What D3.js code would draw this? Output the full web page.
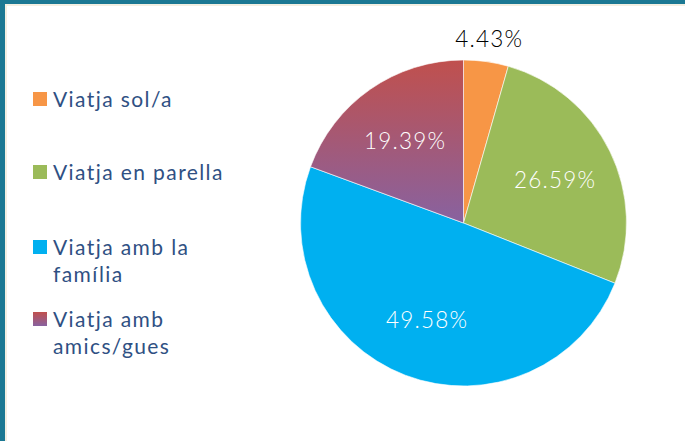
<!DOCTYPE html>
<html>
<head>
<meta charset="utf-8">
<script src="https://cdn.jsdelivr.net/npm/d3@7"></script>
<style>
  html, body { margin: 0; padding: 0; background: #fff; }
  svg { display: block; }
</style>
</head>
<body>
<svg id="chart" width="685" height="441"></svg>
<script>
// data
const categories = ["Viatja sol/a", "Viatja en parella", "Viatja amb la família", "Viatja amb amics/gues"];
const legendLines = [["Viatja sol/a"], ["Viatja en parella"], ["Viatja amb la", "família"], ["Viatja amb", "amics/gues"]];
const values = [4.43, 26.59, 49.58, 19.39];
const colors = ["#f79646", "#9bbb59", "#00b0f0", "url(#grad)"];

const svg = d3.select("#chart");

// frame
svg.append("rect").attr("width", 685).attr("height", 441).attr("fill", "#1b7893");
svg.append("rect").attr("x", 5).attr("y", 4).attr("width", 680).attr("height", 437).attr("fill", "#f3efe2");
svg.append("rect").attr("x", 7).attr("y", 6).attr("width", 678).attr("height", 435).attr("fill", "#fff");

const defs = svg.append("defs");
const grad = defs.append("linearGradient").attr("id", "grad")
    .attr("x1", 0).attr("y1", 0).attr("x2", 0).attr("y2", 1);
grad.append("stop").attr("offset", "0%").attr("stop-color", "#c0504d");
grad.append("stop").attr("offset", "100%").attr("stop-color", "#8862a0");

// pie
const cx = 463.5, cy = 223, r = 163;
const pie = d3.pie().sort(null).value(d => d);
const arcs = pie(values);
const arc = d3.arc().innerRadius(0).outerRadius(r);
const labelArc = d3.arc().innerRadius(102).outerRadius(102);
const outerArc = d3.arc().innerRadius(186).outerRadius(186);

const g = svg.append("g").attr("transform", `translate(${cx},${cy})`);
g.selectAll("path").data(arcs).enter().append("path")
    .attr("d", arc)
    .attr("fill", (d, i) => colors[i])
    .attr("stroke", "#fff")
    .attr("stroke-width", 0.6);

g.selectAll("text.lbl").data(arcs).enter().append("text")
    .attr("class", "lbl")
    .attr("transform", (d, i) => `translate(${(i === 0 ? outerArc : labelArc).centroid(d)})`)
    .attr("text-anchor", "middle")
    .attr("dy", (d, i) => i === 0 ? "0.35em" : "0.45em")
    .style("font-family", "Lato, sans-serif")
    .style("font-weight", 300)
    .style("font-size", "22.5px")
    .style("letter-spacing", "1.2px")
    .attr("fill", (d, i) => i === 0 ? "#000" : "#fff")
    .text(d => d.data.toFixed(2) + "%");

// legend
const legendY = [92, 165, 240, 312];
const leg = svg.append("g");
categories.forEach((c, i) => {
    const item = leg.append("g").attr("transform", `translate(33,${legendY[i]})`);
    item.append("rect").attr("width", 14).attr("height", 14).attr("fill", colors[i]);
    legendLines[i].forEach((line, j) => {
        item.append("text")
            .attr("x", 20).attr("y", 14.5 + j * 27)
            .style("font-family", "Lato, sans-serif")
            .style("font-size", "21px")
            .style("letter-spacing", "1.4px")
            .attr("fill", "#2f5083")
            .text(line);
    });
});
</script>
</body>
</html>
